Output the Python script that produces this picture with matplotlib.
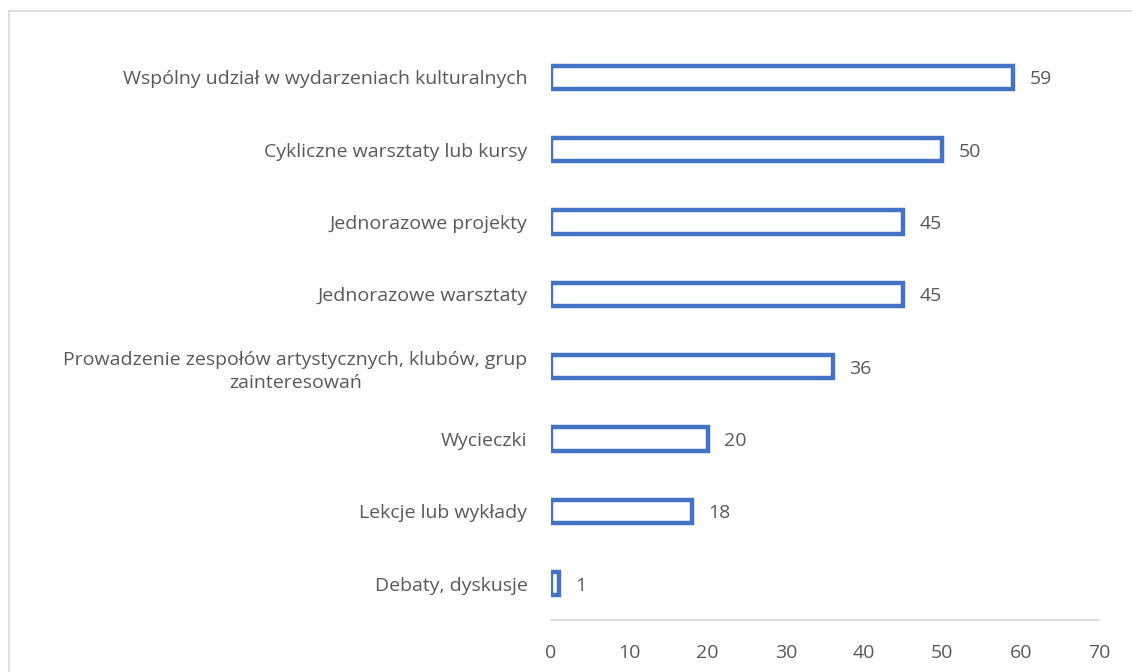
import matplotlib.pyplot as plt
from matplotlib.lines import Line2D

categories = [
    "Wspólny udział w wydarzeniach kulturalnych",
    "Cykliczne warsztaty lub kursy",
    "Jednorazowe projekty",
    "Jednorazowe warsztaty",
    "Prowadzenie zespołów artystycznych, klubów, grup\nzainteresowań",
    "Wycieczki",
    "Lekcje lub wykłady",
    "Debaty, dyskusje",
]
values = [59, 50, 45, 45, 36, 20, 18, 1]
xticks = [0, 10, 20, 30, 40, 50, 60, 70]

blue = "#4472C4"
grey = "#595959"
plt.rcParams['font.family'] = ['Open Sans', 'DejaVu Sans']

fig = plt.figure(figsize=(11.32, 6.72), dpi=100)
ax = fig.add_axes([551 / 1132, 1 - 620 / 672, 548 / 1132, 579 / 672])

pos = list(range(len(categories)))
ax.barh(pos, values, height=0.32, color="white", edgecolor=blue, linewidth=3.2)
for p, v in zip(pos, values):
    ax.text(v + 2.1, p, str(v), va="center_baseline", ha="left", fontsize=14, color=grey)

ax.set_xlim(0, 70)
ax.set_ylim(len(categories) - 0.5, -0.5)
ax.set_xticks(xticks)
ax.set_yticks(pos)
ax.set_yticklabels(categories, multialignment="center", linespacing=1.35)
ax.tick_params(axis="both", length=0, labelsize=14, labelcolor=grey)
ax.tick_params(axis="y", pad=17)
ax.tick_params(axis="x", pad=17)
for s in ["top", "right", "left"]:
    ax.spines[s].set_visible(False)
ax.spines["bottom"].set_color("#D9D9D9")
ax.spines["bottom"].set_linewidth(1.2)

# chart border (cut off at right and bottom)
fig.add_artist(Line2D([8.5 / 1132, 8.5 / 1132], [0, 1 - 11 / 672], color="#D9D9D9", lw=1.2))
fig.add_artist(Line2D([8.5 / 1132, 1], [1 - 11 / 672, 1 - 11 / 672], color="#D9D9D9", lw=1.2))

fig.savefig("out.png", dpi=100)
